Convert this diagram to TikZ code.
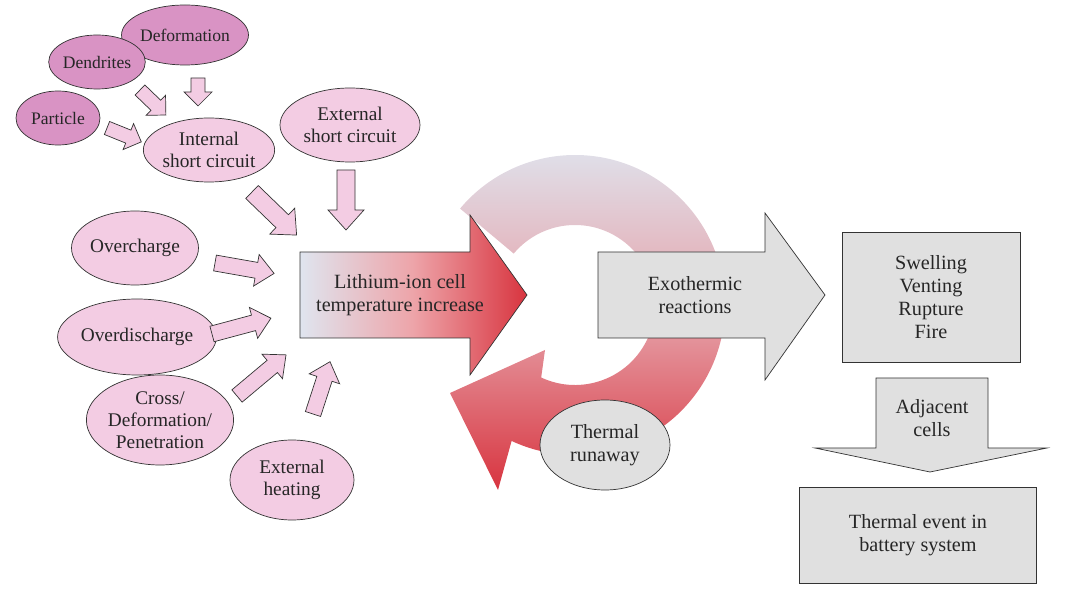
\documentclass[tikz,border=0pt]{standalone}
\usepackage{fontspec}
\setmainfont{Liberation Serif}
\usetikzlibrary{calc,shapes.geometric}
\begin{document}
\begin{tikzpicture}[x=0.02cm,y=-0.02cm,
  sz/.style 2 args={minimum width={#1*0.02cm},minimum height={#2*0.02cm}},
  dk/.style={ellipse,draw=black!80,fill=pinkD,text=black!85,font=\fontsize{10}{11}\selectfont,align=center,inner sep=0pt},
  lt/.style={ellipse,draw=black!80,fill=pinkL,text=black!85,font=\fontsize{11}{12.5}\selectfont,align=center,inner sep=0pt},
  sarr/.style={draw=black!80,fill=pinkL,line join=miter},
  gbox/.style={draw=black!80,fill=grayF,text=black!85,font=\fontsize{11.5}{13}\selectfont,align=center}]
\definecolor{pinkD}{HTML}{D993C4}
\definecolor{pinkL}{HTML}{F3CCE3}
\definecolor{grayF}{HTML}{E0E0E0}
\definecolor{ringT}{HTML}{DFE5EF}
\definecolor{ringB}{HTML}{D8343F}
\useasboundingbox (0,0) rectangle (1080,591);
\shadedraw[draw=none,top color=ringT,bottom color=ringB,middle color=ringT!40!ringB!70]
  (575,305) ++(-140:150) arc[start angle=-140,end angle=115,radius=150]
  -- (498,490) -- (450,393) -- (545,350)
  -- ($(575,305)+(115:80)$) arc[start angle=115,end angle=-140,radius=80] -- cycle;
\newcommand\barr[7]{%
 \begin{scope}[shift={(#1,#2)},rotate=#3]
 \draw[sarr] (0,-#5)--({#4-#7},-#5)--({#4-#7},-#6)--(#4,0)--({#4-#7},#6)--({#4-#7},#5)--(0,#5)--cycle;
 \end{scope}}
% ellipses
\node[dk,sz={110}{60}] (def) at (185,35) {Deformation};
\node[dk,sz={86}{54}] (den) at (97,62) {Dendrites};
\node[dk,sz={84}{54}] (par) at (58,118) {Particle};
\node[lt,sz={124}{64}] (isc) at (209,150) {Internal\\short circuit};
\node[lt,sz={140}{74}] (esc) at (350,125) {External\\short circuit};
\node[lt,sz={124}{74}] (ovc) at (135,248) {Overcharge};
\node[lt,sz={130}{76}] (ovd) at (137,337) {Overdischarge};
\node[lt,sz={110}{90}] (cro) at (160,420) {Cross/\\Deformation/\\Penetration};
\node[lt,sz={124}{80}] (heat) at (292,480) {External\\heating};
% small arrows
\barr{198}{78}{-90}{28}{7}{14}{14}
\barr{140}{90}{-44}{36}{7}{14}{14}
\barr{107}{128}{-22}{37}{7}{14}{14}
\barr{252}{192}{-44}{62}{9}{18}{20}
\barr{346}{170}{-90}{60}{9}{18}{20}
\barr{215}{263}{-10}{60}{8}{16}{18}
\barr{212}{334}{15}{61}{8}{16}{18}
\barr{237}{396}{40}{64}{8}{16}{18}
\barr{313}{414}{72}{55}{8}{16}{18}
% main arrow
\shadedraw[draw=black!80,left color=ringT,right color=ringB,middle color=ringB!45!white]
  (300,252) -- (470,252) -- (470,215) -- (527,295) -- (470,375) -- (470,338) -- (300,338) -- cycle;
\node[font=\fontsize{11.5}{13}\selectfont,align=center,text=black!85] (li) at (400,295) {Lithium-ion cell\\temperature increase};
\draw[draw=black!80,fill=grayF]
  (598,252) -- (765,252) -- (765,213) -- (825,295) -- (765,380) -- (765,338) -- (598,338) -- cycle;
\node[font=\fontsize{11.5}{13}\selectfont,align=center,text=black!85] (exo) at (695,295) {Exothermic\\reactions};
\node[gbox,sz={178}{130}] (sw) at (931,297) {Swelling\\Venting\\Rupture\\Fire};
\draw[draw=black!80,fill=grayF]
  (876,378) -- (988,378) -- (988,448) -- (1047,448) -- (930,472) -- (815,448) -- (876,448) -- cycle;
\node[font=\fontsize{11.5}{13}\selectfont,align=center,text=black!85] (adj) at (932,418) {Adjacent\\cells};
\node[gbox,sz={237}{96}] (te) at (918,535) {Thermal event in\\battery system};
\node[ellipse,draw=black!80,fill=grayF,sz={130}{90},inner sep=0pt,align=center,text=black!85,font=\fontsize{11.5}{13}\selectfont] (tr) at (605,445) {Thermal\\runaway};
\end{tikzpicture}
\end{document}
